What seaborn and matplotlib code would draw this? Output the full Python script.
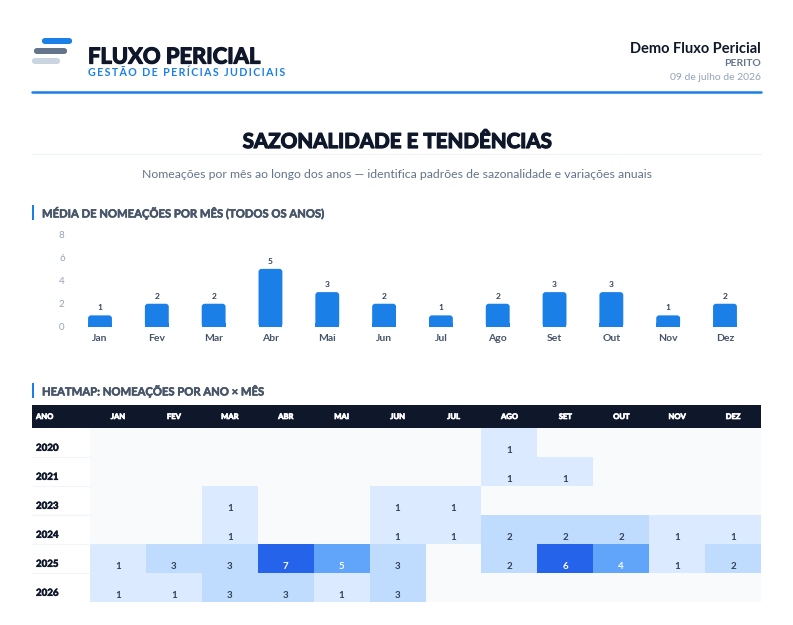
import matplotlib
matplotlib.use("Agg")
import matplotlib.pyplot as plt
import matplotlib.patheffects as pe
import seaborn as sns
import numpy as np
from matplotlib.colors import ListedColormap, BoundaryNorm
from matplotlib.patches import Rectangle, FancyBboxPatch

# data
months = ["Jan", "Fev", "Mar", "Abr", "Mai", "Jun", "Jul", "Ago", "Set", "Out", "Nov", "Dez"]
month_avg = [1, 2, 2, 5, 3, 2, 1, 2, 3, 3, 1, 2]
years = ["2020", "2021", "2023", "2024", "2025", "2026"]
counts_2020 = [0, 0, 0, 0, 0, 0, 0, 1, 0, 0, 0, 0]
counts_2021 = [0, 0, 0, 0, 0, 0, 0, 1, 1, 0, 0, 0]
counts_2023 = [0, 0, 1, 0, 0, 1, 1, 0, 0, 0, 0, 0]
counts_2024 = [0, 0, 1, 0, 0, 1, 1, 2, 2, 2, 1, 1]
counts_2025 = [1, 3, 3, 7, 5, 3, 0, 2, 6, 4, 1, 2]
counts_2026 = [1, 1, 3, 3, 1, 3, 0, 0, 0, 0, 0, 0]

W, H = 793, 625
sns.set_theme(style="white")
plt.rcParams['font.family'] = ['Lato', 'DejaVu Sans']

fig = plt.figure(figsize=(W / 100, H / 100), dpi=100)
fig.patch.set_facecolor("white")

def fx(x): return x / W
def fy(y): return 1 - y / H

NAVY = "#0f172a"
BLUE = "#1a7fe6"
heavy = [pe.withStroke(linewidth=0.9, foreground=NAVY)]

# ---- header ----
for (x0, x1, yc, c) in [(42, 72, 41, "#1a7fe6"), (34, 67, 51, "#64748b"), (32, 60, 61, "#cbd5e1")]:
    fig.patches.append(FancyBboxPatch((fx(x0), fy(yc + 3)), fx(x1 - x0), 6 / H,
                                      boxstyle="round,pad=0,rounding_size=0.004",
                                      transform=fig.transFigure, color=c, lw=0))
fig.text(fx(88), fy(57), "FLUXO PERICIAL", fontsize=15.8, fontweight="bold", color=NAVY, va="center",
         path_effects=heavy)
fig.text(fx(88), fy(72), "\u2009".join("GESTÃO DE PERÍCIAS JUDICIAIS"), fontsize=7.7,
         fontweight="bold", color=BLUE, va="center")
fig.text(fx(761), fy(49), "Demo Fluxo Pericial", fontsize=10.5, fontweight="bold", color=NAVY,
         ha="right", va="center")
fig.text(fx(761), fy(63), "PERITO", fontsize=7.5, fontweight="bold", color="#64748b", ha="right", va="center")
fig.text(fx(761), fy(77), "09 de julho de 2026", fontsize=7.5, color="#94a3b8", ha="right", va="center")
fig.add_artist(plt.Line2D([fx(32), fx(761)], [fy(92), fy(92)], color=BLUE, lw=1.8))

fig.text(0.5, fy(142), "SAZONALIDADE E TENDÊNCIAS", fontsize=14.8, fontweight="bold", color=NAVY,
         ha="center", va="center", path_effects=heavy)
fig.add_artist(plt.Line2D([fx(32), fx(761)], [fy(154), fy(154)], color="#eef1f5", lw=0.8))
fig.text(0.5, fy(174), "Nomeações por mês ao longo dos anos — identifica padrões de sazonalidade e variações anuais",
         fontsize=8.8, color="#64748b", ha="center", va="center")

def section(y, label):
    fig.patches.append(Rectangle((fx(32), fy(y + 8)), fx(2), 15 / H, transform=fig.transFigure,
                                 color=BLUE, lw=0))
    fig.text(fx(42), fy(y + 1), label, fontsize=8.1, fontweight="bold", color="#475569", va="center",
             path_effects=[pe.withStroke(linewidth=0.4, foreground="#475569")])

section(212, "MÉDIA DE NOMEAÇÕES POR MÊS (TODOS OS ANOS)")
section(390, "HEATMAP: NOMEAÇÕES POR ANO × MÊS")

# ---- bar chart ----
ax_w = 753.4 - 71.6
ax = fig.add_axes([fx(71.6), fy(327), fx(ax_w), 93 / H])
sns.barplot(x=months, y=month_avg, color=BLUE, width=0.42, saturation=1, ax=ax)
ax.set_ylim(0, 8)
ax.set_xlim(-0.5, 11.5)
# swap the square bars for rounded ones
xu = 12 / ax_w
yu = 8 / 93
for p in list(ax.patches):
    x, y, w, h = p.get_x(), p.get_y(), p.get_width(), p.get_height()
    p.remove()
    ax.add_patch(FancyBboxPatch((x, y), w, h, boxstyle="round,pad=0,rounding_size=%f" % (3 * xu),
                                mutation_aspect=yu / xu, color=BLUE, lw=0))
    ax.add_patch(Rectangle((x, y), w, min(h, 4 * yu), color=BLUE, lw=0))
ax.set_yticks([0, 2, 4, 6, 8])
ax.tick_params(axis="y", labelsize=7, labelcolor="#94a3b8", length=0, pad=5)
ax.tick_params(axis="x", labelsize=7.5, labelcolor="#475569", length=0, pad=5)
for lab in ax.get_xticklabels():
    lab.set_fontweight("bold")
for s in ax.spines.values():
    s.set_visible(False)
ax.set_facecolor("none")
for i, v in enumerate(month_avg):
    ax.text(i, v + 0.35, str(v), ha="center", va="bottom", fontsize=6, fontweight="bold", color="#334155")

# ---- heatmap ----
data = np.array([counts_2020, counts_2021, counts_2023, counts_2024, counts_2025, counts_2026])
labels = np.where(data > 0, data.astype(str), "")
cmap = ListedColormap(["#f8fafc", "#dbeafe", "#bfdbfe", "#60a5fa", "#2563eb"])
norm = BoundaryNorm([-0.5, 0.5, 1.5, 3.5, 5.5, 7.5], cmap.N)
colw = (761 - 90) / 12
rowh = (602 - 428) / 6
hx = fig.add_axes([fx(90), fy(602), fx(761 - 90), (602 - 428) / H])
sns.heatmap(data, cmap=cmap, norm=norm, annot=labels, fmt="", cbar=False, linewidths=0,
            annot_kws={"fontsize": 7, "fontweight": "bold"}, ax=hx)
for t in hx.texts:
    x, y = t.get_position()
    t.set_y(y + 0.28)
    val = int(t.get_text()) if t.get_text() else 0
    t.set_color("white" if val >= 4 else "#334155")
hx.set_xticks([])
hx.set_yticks([])
off = 58 / colw
hdr = 23 / rowh
hx.add_patch(Rectangle((-off, -hdr), 12 + off, hdr, color=NAVY, clip_on=False, lw=0))
hx.text(-off + 4 / colw, -hdr / 2, "ANO", color="white", fontsize=5.5, fontweight="bold",
        ha="left", va="center", clip_on=False, path_effects=[pe.withStroke(linewidth=0.5, foreground="white")])
for j, m in enumerate(months):
    hx.text(j + 0.5, -hdr / 2, m.upper(), color="white", fontsize=5.5, fontweight="bold",
            ha="center", va="center", clip_on=False,
            path_effects=[pe.withStroke(linewidth=0.5, foreground="white")])
for i, yr in enumerate(years):
    hx.text(-off + 4 / colw, i + 0.7, yr, color=NAVY, fontsize=7, fontweight="bold",
            ha="left", va="center", clip_on=False, path_effects=[pe.withStroke(linewidth=0.4, foreground=NAVY)])
    if i > 0:
        hx.plot([-off, 0], [i, i], color="#f1f5f9", lw=0.8, clip_on=False)

fig.savefig("out.png", dpi=100, facecolor="white")
